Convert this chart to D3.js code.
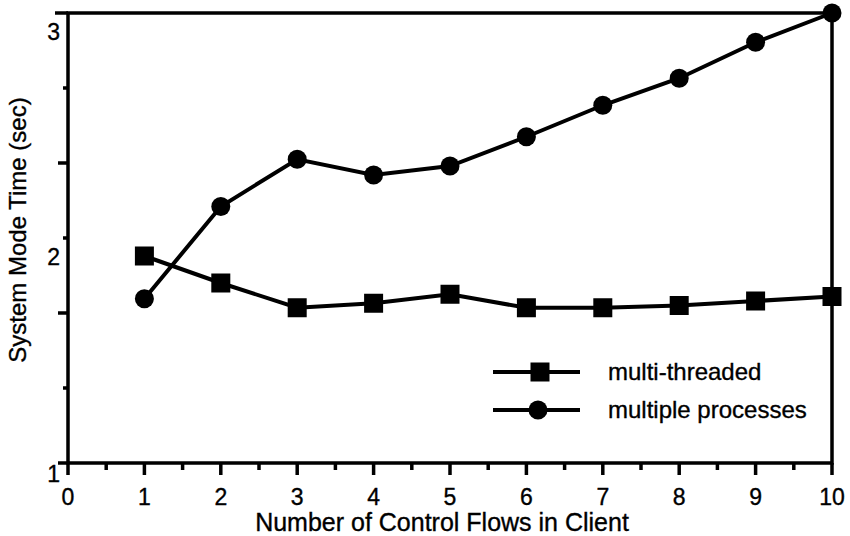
<!DOCTYPE html>
<html>
<head>
<meta charset="utf-8">
<script src="https://cdn.jsdelivr.net/npm/d3@7/dist/d3.min.js"></script>
<style>
  body { margin: 0; background: #fff; }
  text { font-family: "Liberation Sans", Arial, sans-serif; fill: #000; stroke: #000; stroke-width: 0.35px; }
</style>
</head>
<body>
<div id="vis"></div>
<script>
// values
var flows = [1, 2, 3, 4, 5, 6, 7, 8, 9, 10];
var multiThreaded = [1.92, 1.80, 1.69, 1.71, 1.75, 1.69, 1.69, 1.70, 1.72, 1.74];
var multiProcess = [1.73, 2.14, 2.35, 2.28, 2.32, 2.45, 2.59, 2.71, 2.87, 3.00];
var xTickLabels = [0, 1, 2, 3, 4, 5, 6, 7, 8, 9, 10];
var yTickLabels = [1, 2, 3];
var seriesNames = ["multi-threaded", "multiple processes"];

var W = 850, H = 536;
var margin = {top: 13, right: 18, bottom: 73, left: 68};

var svg = d3.select("div#vis")
  .append("svg")
  .attr("width", W)
  .attr("height", H);

var x = d3.scaleLinear()
    .domain([0, 10])
    .range([margin.left, W - margin.right]);

var y = d3.scaleLinear()
    .domain([1, 3])
    .range([H - margin.bottom, margin.top]);

var axisW = 3.5;

// frame: left, bottom, right, top
svg.append("path")
  .attr("d", "M" + x(0) + "," + y(1) + "V" + y(3) + "H" + x(10) + "V" + y(1) + "Z")
  .attr("fill", "none")
  .attr("stroke", "#000")
  .attr("stroke-width", axisW);

// x ticks: integers long, halves short
var xMinor = d3.range(0, 10.01, 0.5);
svg.append("g")
  .selectAll("line")
  .data(xMinor)
  .enter().append("line")
  .attr("x1", function(d) { return x(d); })
  .attr("x2", function(d) { return x(d); })
  .attr("y1", y(1))
  .attr("y2", function(d) { return y(1) + (d % 1 === 0 ? 12 : 7); })
  .attr("stroke", "#000")
  .attr("stroke-width", 3.5);

svg.append("g")
  .selectAll("text")
  .data(xTickLabels)
  .enter().append("text")
  .attr("x", function(d) { return x(d); })
  .attr("y", y(1) + 34)
  .attr("dy", "0.35em")
  .attr("text-anchor", "middle")
  .attr("font-size", 23)
  .text(function(d) { return d; });

// y ticks every third of a unit, alternating long/short
var yMinor = d3.range(0, 7).map(function(i) { return 1 + i / 3; });
svg.append("g")
  .selectAll("line")
  .data(yMinor)
  .enter().append("line")
  .attr("x1", x(0))
  .attr("x2", function(d, i) { return x(0) - (i === 6 ? 13 : (i % 2 === 0 ? 10 : 5)); })
  .attr("y1", function(d) { return y(d); })
  .attr("y2", function(d) { return y(d); })
  .attr("stroke", "#000")
  .attr("stroke-width", 3.5);

svg.append("g")
  .selectAll("text")
  .data(yTickLabels)
  .enter().append("text")
  .attr("x", x(0) - 8)
  .attr("y", function(d) { return y(d) + (d === 1 ? 11 : 19); })
  .attr("dy", "0.35em")
  .attr("text-anchor", "end")
  .attr("font-size", 23)
  .text(function(d) { return d; });

// axis titles
svg.append("text")
  .attr("x", 442)
  .attr("y", 522)
  .attr("dy", "0.35em")
  .attr("text-anchor", "middle")
  .attr("font-size", 25)
  .text("Number of Control Flows in Client");

svg.append("text")
  .attr("transform", "translate(18," + ((y(1) + y(3)) / 2 - 8) + ") rotate(-90)")
  .attr("dy", "0.35em")
  .attr("text-anchor", "middle")
  .attr("font-size", 24)
  .text("System Mode Time (sec)");

// lines
var line = d3.line()
  .x(function(d, i) { return x(flows[i]); })
  .y(function(d) { return y(d); });

[multiThreaded, multiProcess].forEach(function(s) {
  svg.append("path")
    .datum(s)
    .attr("d", line)
    .attr("fill", "none")
    .attr("stroke", "#000")
    .attr("stroke-width", 4);
});

var sq = 19, rad = 9.5;

svg.append("g")
  .selectAll("rect")
  .data(multiThreaded)
  .enter().append("rect")
  .attr("x", function(d, i) { return x(flows[i]) - sq / 2; })
  .attr("y", function(d) { return y(d) - sq / 2; })
  .attr("width", sq)
  .attr("height", sq)
  .attr("fill", "#000");

svg.append("g")
  .selectAll("circle")
  .data(multiProcess)
  .enter().append("circle")
  .attr("cx", function(d, i) { return x(flows[i]); })
  .attr("cy", function(d) { return y(d); })
  .attr("r", rad)
  .attr("fill", "#000");

// legend
var legend = svg.append("g")
  .selectAll("g")
  .data(seriesNames)
  .enter().append("g")
  .attr("transform", function(d, i) { return "translate(493," + (372 + i * 38) + ")"; });

legend.append("line")
  .attr("x1", 0)
  .attr("x2", 87)
  .attr("stroke", "#000")
  .attr("stroke-width", 4);

legend.filter(function(d, i) { return i === 0; })
  .append("rect")
  .attr("x", 47 - sq / 2)
  .attr("y", -sq / 2)
  .attr("width", sq)
  .attr("height", sq)
  .attr("fill", "#000");

legend.filter(function(d, i) { return i === 1; })
  .append("circle")
  .attr("cx", 45)
  .attr("r", rad)
  .attr("fill", "#000");

legend.append("text")
  .attr("x", 115)
  .attr("dy", "0.35em")
  .attr("font-size", 24)
  .text(function(d) { return d; });
</script>
</body>
</html>
